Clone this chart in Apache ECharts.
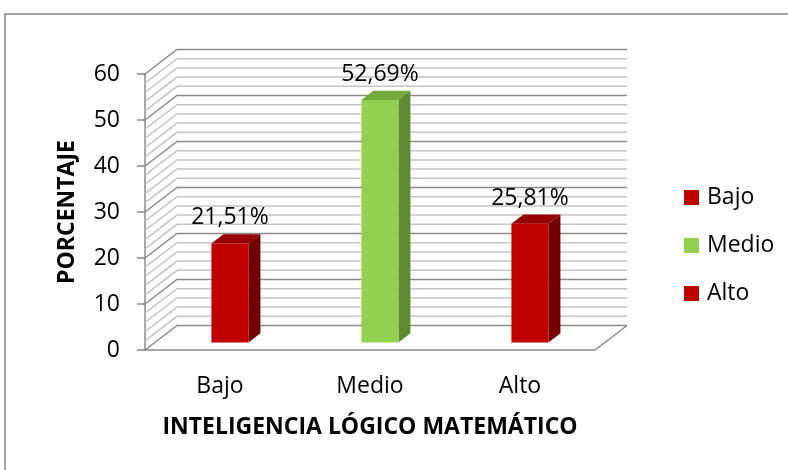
<!DOCTYPE html>
<html>
<head>
<meta charset="utf-8">
<script src="https://cdn.jsdelivr.net/npm/echarts@6/dist/echarts.min.js"></script>
<style>
  html, body { margin: 0; padding: 0; background: #fff; }
  #chart { width: 788px; height: 470px; }
</style>
</head>
<body>
<div id="chart"></div>
<script>
// data
const categories = ['Bajo', 'Medio', 'Alto'];
const percentages = [21.51, 52.69, 25.81];
const yTicks = [0, 10, 20, 30, 40, 50, 60];
const wallLines = [0, 2, 4, 6, 8, 10, 12, 14, 16, 18, 20, 22, 24, 26, 28, 30,
  32, 34, 36, 38, 40, 42, 44, 46, 48, 50, 52, 54, 56, 58, 60];

// colours: front, side, top
const barColors = [
  ['#C00000', '#720000', '#960000'],
  ['#92D050', '#5E8A32', '#72A83C'],
  ['#C00000', '#720000', '#960000']
];

const FONT = 'Open Sans';
const DX = 32, DY = -24.5;      // depth of the 3d box
const F1 = 0.31, F2 = 0.685;    // bar front/back depth fraction
const BAR_W = 37;

const chart = echarts.init(document.getElementById('chart'));

// back wall + left wall gridlines, floor outline
function renderWalls(params, api) {
  const cs = params.coordSys;
  const v = api.value(0);
  const y = api.coord([0, v])[1];
  const x0 = cs.x, x1 = cs.x + cs.width;
  const major = v % 10 === 0;
  const style = { stroke: major ? '#8a8a8a' : '#c4c4c4', lineWidth: 1.5, fill: null };
  const children = [{
    type: 'polyline',
    shape: { points: [[x0, y], [x0 + DX, y + DY], [x1 + DX, y + DY]] },
    style: style
  }];
  if (v === 0) {
    children.push({
      type: 'polyline',
      shape: { points: [[x0, y], [x1, y], [x1 + DX, y + DY]] },
      style: { stroke: '#8a8a8a', lineWidth: 1.5, fill: null }
    });
  }
  return { type: 'group', children: children };
}

function renderBar(params, api) {
  const idx = api.value(0);
  const val = api.value(1);
  const base = api.coord([idx, 0]);
  const top = api.coord([idx, val]);
  const c = barColors[idx];
  const x0 = base[0] - BAR_W / 2 + F1 * DX;
  const x1 = x0 + BAR_W;
  const yb = base[1] + F1 * DY;
  const yt = top[1] + F1 * DY;
  const ddx = (F2 - F1) * DX, ddy = (F2 - F1) * DY;
  return {
    type: 'group',
    children: [
      { type: 'polygon', shape: { points: [[x1, yb], [x1, yt], [x1 + ddx, yt + ddy], [x1 + ddx, yb + ddy]] }, style: { fill: c[1] } },
      { type: 'polygon', shape: { points: [[x0, yt], [x1, yt], [x1 + ddx, yt + ddy], [x0 + ddx, yt + ddy]] }, style: { fill: c[2] } },
      { type: 'rect', shape: { x: x0, y: yt, width: BAR_W, height: yb - yt }, style: { fill: c[0] } },
      {
        type: 'text',
        style: {
          x: (x0 + x1) / 2, y: yt + ddy - 5,
          text: val.toFixed(2).replace('.', ',') + '%',
          align: 'center', verticalAlign: 'bottom',
          font: '23px "' + FONT + '"', fill: '#000'
        }
      }
    ]
  };
}

const barSeries = categories.map((name, i) => ({
  name: name,
  type: 'custom',
  renderItem: renderBar,
  itemStyle: { color: barColors[i][0] },
  encode: { x: 0, y: 1 },
  data: [[i, percentages[i]]],
  z: 5
}));

const option = {
  backgroundColor: '#fff',
  animation: false,
  textStyle: { fontFamily: FONT },
  graphic: [{
    type: 'rect',
    shape: { x: 5, y: 14, width: 900, height: 600 },
    style: { fill: null, stroke: '#868686', lineWidth: 1.5 },
    silent: true
  }],
  grid: { left: 145, top: 74, width: 450, height: 276 },
  legend: {
    orient: 'vertical',
    left: 679,
    top: 181,
    icon: 'rect',
    itemWidth: 15,
    itemHeight: 15,
    itemGap: 25,
    data: categories,
    textStyle: { fontSize: 23, color: '#000', lineHeight: 23, padding: [0, 0, 0, 3], fontFamily: FONT }
  },
  xAxis: {
    type: 'category',
    data: categories,
    axisLine: { show: false },
    axisTick: { show: false },
    axisLabel: { fontSize: 23, color: '#000', margin: 25, fontFamily: FONT },
    name: 'INTELIGENCIA LÓGICO MATEMÁTICO',
    nameLocation: 'middle',
    nameGap: 66,
    nameTextStyle: { fontSize: 23, fontWeight: 'bold', color: '#000', fontFamily: FONT }
  },
  yAxis: {
    type: 'value',
    min: yTicks[0],
    max: yTicks[yTicks.length - 1],
    interval: 10,
    axisLine: { show: true, lineStyle: { color: '#8a8a8a', width: 1.5 } },
    axisTick: { show: true, length: 8, lineStyle: { color: '#8a8a8a', width: 1.5 } },
    splitLine: { show: false },
    axisLabel: { fontSize: 23, color: '#000', margin: 25, fontFamily: FONT },
    name: 'PORCENTAJE',
    nameLocation: 'middle',
    nameGap: 66,
    nameTextStyle: { fontSize: 23, fontWeight: 'bold', color: '#000', fontFamily: FONT }
  },
  series: [{
    name: 'walls',
    type: 'custom',
    renderItem: renderWalls,
    encode: { y: 0 },
    data: wallLines.map(v => [v]),
    itemStyle: { color: '#8a8a8a' },
    silent: true,
    z: 1
  }].concat(barSeries)
};

chart.setOption(option);
</script>
</body>
</html>
